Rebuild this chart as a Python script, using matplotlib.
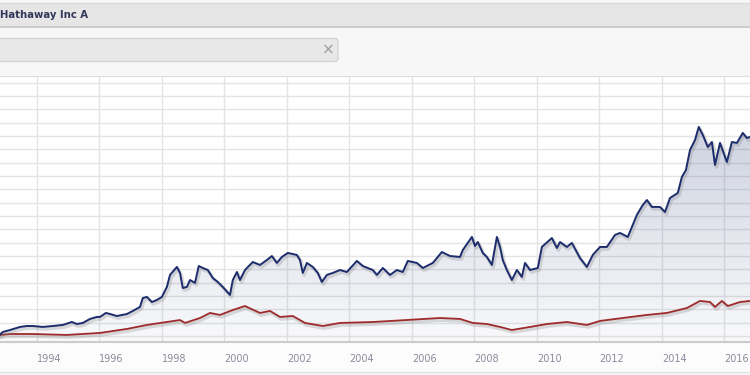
import numpy as np
import matplotlib
matplotlib.use("Agg")
import matplotlib.pyplot as plt
from matplotlib import patheffects as pe
from matplotlib.patches import FancyBboxPatch, Rectangle, PathPatch

# Berkshire Hathaway Inc A (blue) and benchmark (red), rebased growth values
brk_years = [1992.82, 1992.91, 1993.14, 1993.46, 1993.68, 1993.87, 1994.19, 1994.51, 1994.83, 1995.12,
             1995.28, 1995.47, 1995.70, 1995.92, 1996.02, 1996.21, 1996.34, 1996.56, 1996.88, 1997.07,
             1997.30, 1997.39, 1997.52, 1997.68, 1997.84, 1998.00, 1998.16, 1998.26, 1998.48, 1998.58,
             1998.67, 1998.80, 1998.90, 1999.06, 1999.18, 1999.31, 1999.47, 1999.63, 1999.79, 1999.95,
             2000.18, 2000.27, 2000.40, 2000.50, 2000.66, 2000.72, 2000.91, 2001.14, 2001.36, 2001.52,
             2001.68, 2001.84, 2002.03, 2002.32, 2002.42, 2002.51, 2002.64, 2002.83, 2002.99, 2003.12,
             2003.28, 2003.47, 2003.70, 2003.92, 2004.24, 2004.43, 2004.75, 2004.88, 2005.07, 2005.30,
             2005.52, 2005.71, 2005.87, 2006.16, 2006.35, 2006.67, 2006.96, 2007.22, 2007.54, 2007.63,
             2007.92, 2008.02, 2008.11, 2008.27, 2008.40, 2008.56, 2008.72, 2008.82, 2008.91, 2009.04,
             2009.20, 2009.36, 2009.52, 2009.62, 2009.78, 2010.03, 2010.16, 2010.48, 2010.64, 2010.74,
             2010.96, 2011.12, 2011.38, 2011.60, 2011.79, 2012.02, 2012.24, 2012.50, 2012.66, 2012.91,
             2013.20, 2013.39, 2013.52, 2013.68, 2013.94, 2014.10, 2014.26, 2014.51, 2014.64, 2014.77,
             2014.90, 2015.06, 2015.18, 2015.31, 2015.47, 2015.60, 2015.70, 2015.86, 2016.08, 2016.24,
             2016.40, 2016.59, 2016.72, 2016.82]
brk_values = [11, 30, 45, 68, 75, 75, 68, 75, 83, 105,
              90, 98, 128, 143, 143, 173, 165, 150, 165, 188,
              218, 285, 293, 255, 270, 293, 368, 458, 518, 473,
              360, 368, 420, 398, 525, 510, 495, 435, 405, 368,
              308, 420, 480, 420, 495, 510, 555, 533, 570, 600,
              548, 593, 623, 608, 570, 473, 548, 518, 473, 405,
              458, 473, 495, 480, 563, 525, 495, 458, 510, 458,
              495, 480, 563, 548, 510, 548, 630, 600, 593, 645,
              743, 675, 705, 623, 593, 533, 743, 668, 570, 495,
              420, 495, 443, 548, 495, 510, 668, 735, 660, 705,
              668, 698, 585, 518, 608, 668, 668, 758, 773, 743,
              908, 983, 1020, 968, 968, 930, 1035, 1073, 1193, 1245,
              1395, 1470, 1568, 1508, 1418, 1455, 1283, 1448, 1305, 1455,
              1448, 1523, 1485, 1493]

index_years = [1992.82, 1993.14, 1993.87, 1994.96, 1996.02, 1996.88, 1997.52, 1998.16, 1998.58, 1998.74,
               1999.22, 1999.54, 1999.86, 2000.27, 2000.66, 2000.72, 2001.14, 2001.46, 2001.78, 2002.19,
               2002.58, 2003.15, 2003.70, 2004.75, 2005.84, 2006.90, 2007.54, 2007.95, 2008.40, 2008.82,
               2009.20, 2009.78, 2010.32, 2010.96, 2011.60, 2012.02, 2012.75, 2013.52, 2014.16, 2014.80,
               2015.22, 2015.54, 2015.70, 2015.92, 2016.11, 2016.50, 2016.82]
index_values = [8, 15, 15, 8, 23, 53, 83, 105, 120, 98,
                135, 173, 158, 195, 225, 218, 173, 188, 143, 150,
                98, 75, 98, 105, 120, 135, 128, 98, 90, 68,
                45, 68, 90, 105, 83, 113, 135, 158, 173, 210,
                263, 255, 218, 263, 225, 255, 263]

tick_years = list(range(1994, 2017, 2))
x_min, x_max = 1992.82, 2016.82
y_min, y_max = -45, 1950

fig = plt.figure(figsize=(7.5, 3.75), dpi=100)
fig.patch.set_facecolor("#f6f6f6")

# page chrome (header bar, search box, footer strip)
chrome = fig.add_axes([0, 0, 1, 1])
chrome.set_xlim(0, 750)
chrome.set_ylim(375, 0)
chrome.axis("off")
chrome.add_patch(Rectangle((0, 0), 750, 375, facecolor="#f7f7f7", edgecolor="none"))
chrome.add_patch(Rectangle((0, 3), 750, 24, facecolor="#e6e6e6", edgecolor="none"))
chrome.plot([0, 750], [3, 3], color="#dadada", lw=1)
chrome.plot([0, 750], [27, 27], color="#c6c6c6", lw=1.2)
chrome.text(0, 15.5, "Hathaway Inc A", fontsize=7.3, fontweight="bold", color="#33375a",
            va="center", ha="left")
chrome.add_patch(FancyBboxPatch((-10, 38.5), 348, 23, boxstyle="round,pad=0,rounding_size=3",
                                facecolor="#e8e8e8", edgecolor="#d4d4d4", lw=1))
chrome.text(328, 50, "\u00d7", fontsize=11, color="#9a9a9a", ha="center", va="center")
chrome.add_patch(Rectangle((0, 342), 750, 30, facecolor="#fcfcfc", edgecolor="none"))
chrome.plot([0, 750], [372, 372], color="#e2e2e2", lw=1)

ax = fig.add_axes([0, 33 / 375, 1, 266 / 375])
ax.set_facecolor("white")

# gradient fill under the Berkshire line
poly = ax.fill_between(brk_years, brk_values, y_min, facecolor="none", edgecolor="none")
clip = PathPatch(poly.get_paths()[0], transform=ax.transData, facecolor="none", edgecolor="none")
ax.add_patch(clip)
alpha = np.linspace(0.27, 0.03, 256)
grad = np.zeros((256, 1, 4))
grad[:, 0, 0] = 0.14
grad[:, 0, 1] = 0.22
grad[:, 0, 2] = 0.46
grad[:, 0, 3] = alpha
im = ax.imshow(grad, extent=[x_min, x_max, y_min, y_max], aspect="auto", origin="upper", zorder=2)
im.set_clip_path(clip)

shadow = [pe.SimpleLineShadow(offset=(1, -1.5), shadow_color="#7a7a7a", alpha=0.25, linewidth=2.6), pe.Normal()]
ax.plot(index_years, index_values, color="#9e2b2b", lw=1.3, zorder=4, path_effects=shadow)
ax.plot(brk_years, brk_values, color="#1c2c6c", lw=1.4, zorder=5, path_effects=shadow)

ax.set_xlim(x_min, x_max)
ax.set_ylim(y_min, y_max)
ax.set_yticks(range(0, 2000, 100))
ax.set_yticklabels([])
ax.set_xticks(tick_years)
ax.set_xticklabels([str(y) for y in tick_years], ha="left", fontsize=7, color="#8a8c9c")
ax.tick_params(length=0, pad=8.5)
ax.grid(True, color="#e4e4e4", lw=1, zorder=0)
ax.set_axisbelow(True)
for side in ["left", "right"]:
    ax.spines[side].set_visible(False)
ax.spines["top"].set_color("#dedede")
ax.spines["bottom"].set_color("#cccccc")
ax.spines["bottom"].set_linewidth(1.5)

fig.savefig("out.png", dpi=100, facecolor=fig.get_facecolor())
